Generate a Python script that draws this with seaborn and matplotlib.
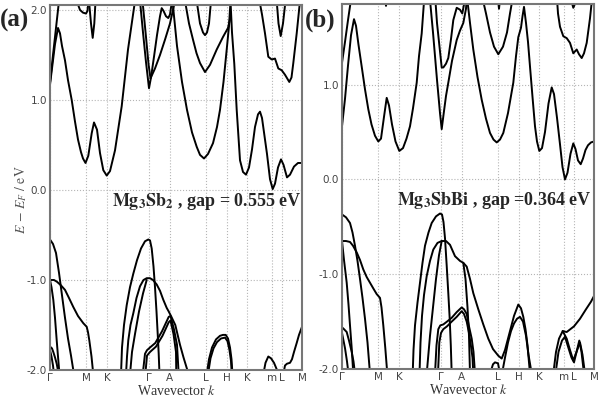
import numpy as np
import pandas as pd
import seaborn as sns
import matplotlib
matplotlib.use('Agg')
import matplotlib.pyplot as plt

# k path positions of the high symmetry points (same for both panels)
k_ticks = [0, 36, 57, 99, 119.5, 156, 177, 197, 222, 232, 252]
k_labels = ['Γ', 'M', 'K', 'Γ', 'A', 'L', 'H', 'K', 'm', 'L', 'M']

# ---- (a) Mg3Sb2 : bands as (k, E) pairs ----
a_c1 = [(0, 1.17), (2, 1.35), (5, 1.62), (8, 1.80), (10, 1.74), (12, 1.60), (15, 1.44), (18, 1.22),
        (21.7, 1.00), (25, 0.76), (28, 0.56), (31, 0.42), (33, 0.35), (35.5, 0.30), (38.3, 0.38),
        (41.7, 0.63), (44, 0.75), (47, 0.67), (50, 0.41), (53.3, 0.22), (56.7, 0.16), (60, 0.21),
        (65, 0.44), (71.7, 0.93), (78, 1.56), (85, 2.10)]
a_c2 = [(0, 1.19), (3, 1.50), (6, 1.80), (9, 2.10)]
a_c3 = [(26.7, 2.10), (30, 2.00), (33, 1.97), (36, 1.96), (37.5, 1.99), (38.5, 2.10)]
a_c4 = [(39, 2.10), (41, 1.85), (42.7, 1.69), (44.3, 1.85), (45.5, 2.10)]
a_c5 = [(90, 2.10), (93, 1.75), (96, 1.42), (99, 1.13), (101, 1.25), (104, 1.48), (107, 1.72),
        (110, 1.93), (111.7, 2.02), (113.5, 1.99), (116, 1.93), (118.3, 1.91), (120, 1.95), (122, 2.10)]
a_c6 = [(92.5, 2.10), (96, 1.70), (98.5, 1.40), (100.5, 1.24), (105, 1.35), (110, 1.50), (115, 1.67),
        (120, 1.85), (125, 2.10)]
a_c7 = [(122.5, 2.10), (127, 1.60), (132, 1.20), (137, 0.89), (142, 0.64), (146.7, 0.48), (150, 0.39),
        (154, 0.35), (158, 0.40), (163, 0.52), (167, 0.70), (170, 0.89), (173.5, 1.20), (176.7, 1.56),
        (179, 1.82), (180.5, 2.10), (182, 1.75), (184.3, 1.40), (186.7, 0.89), (190, 0.33), (193, 0.20),
        (196, 0.17), (199, 0.25), (202, 0.45), (205, 0.70), (208, 0.84), (210, 0.87), (212, 0.80),
        (214.5, 0.60), (217, 0.40), (220, 0.12), (222.7, 0.01), (225, 0.07), (228, 0.25), (231, 0.34),
        (233.5, 0.28), (237, 0.14), (240, 0.17), (244, 0.26), (248, 0.30), (252, 0.30)]
a_c8 = [(135, 2.10), (139, 1.85), (143, 1.67), (146.5, 1.52), (150, 1.41), (155, 1.31), (160, 1.39),
        (166.7, 1.56), (173, 1.70), (178, 1.80), (180, 1.90)]
a_c9 = [(146.7, 2.10), (150, 1.85), (153, 1.75), (155, 1.72), (157, 1.75), (159, 1.85), (161, 2.10)]
a_c10 = [(209.5, 2.10), (212, 1.95), (215, 1.74), (218.3, 1.48), (221.7, 1.45), (225, 1.46), (228.3, 1.35),
         (231.7, 1.33), (235, 1.28), (239.3, 1.20), (241.5, 1.25), (243.3, 1.41), (246.7, 1.74), (250, 2.10)]
a_c11 = [(226.7, 2.10), (228.5, 1.85), (230.7, 1.71), (233, 1.85), (235.5, 2.10)]

a_v1 = [(0, -0.55), (3, -0.60), (6, -0.70), (9, -0.92), (12, -1.17), (15, -1.42), (18, -1.65),
        (21, -1.84), (24, -2.05)]
a_v2 = [(0, -1.00), (4, -1.00), (7, -1.02), (11, -1.06), (15, -1.11), (19, -1.20), (23.3, -1.30),
        (28, -1.40), (33.3, -1.48), (36.7, -1.52), (38, -1.58), (39.3, -1.67), (41.5, -1.85), (43.3, -2.05)]
a_v3 = [(0, -1.00), (1.5, -1.08), (3.3, -1.22), (5, -1.42), (6.7, -1.67), (8, -1.85), (9.5, -2.05)]
a_v4 = [(0, -1.74), (2, -1.76), (3.3, -1.80), (5, -1.86), (6.7, -1.93), (8.7, -2.05)]
a_v5 = [(0, -1.78), (1.5, -1.85), (3, -1.95), (4, -2.05)]
a_v6 = [(71, -2.05), (72, -1.75), (74, -1.50), (76.7, -1.28), (80, -1.08), (83.3, -0.93), (87, -0.78),
        (91, -0.65), (95, -0.57), (98.3, -0.55), (100, -0.56), (101.7, -0.65), (103.5, -0.85),
        (105, -1.08), (106.5, -1.35), (107.8, -1.62), (108.7, -1.82), (109.5, -2.05)]
a_v7 = [(76, -2.05), (77, -1.85), (78.3, -1.67), (80.5, -1.50), (83.3, -1.37), (86.5, -1.20), (90, -1.07),
        (93.5, -1.00), (96.7, -0.98), (100, -0.98), (103, -1.00), (106.7, -1.05), (110, -1.12),
        (113.3, -1.22), (116.7, -1.31), (118.7, -1.35), (121, -1.40), (125.3, -1.50), (130, -1.72),
        (133.5, -1.86), (138.7, -2.05)]
a_v8 = [(80, -2.05), (82, -1.80), (85, -1.60), (89, -1.35), (93, -1.15), (96.7, -1.00)]
a_v9 = [(92.7, -2.05), (95, -1.82), (97, -1.78), (100, -1.75), (105.3, -1.70), (112, -1.57),
        (118.7, -1.41), (120.5, -1.40), (124, -1.55), (127, -1.72), (128.7, -2.05)]
a_v10 = [(95.3, -2.05), (97, -1.84), (100, -1.80), (106, -1.74), (112.5, -1.62), (118.7, -1.47),
         (120.5, -1.45), (123.5, -1.60), (126, -1.80), (126.3, -2.05)]
a_v11 = [(156.7, -2.05), (159, -1.88), (162, -1.75), (166, -1.66), (170, -1.62), (173, -1.61),
         (175.7, -1.61), (178, -1.65), (180, -1.75), (181.5, -1.88), (182.5, -2.05)]
a_v12 = [(158, -2.05), (160.5, -1.87), (163.5, -1.76), (167, -1.69), (171, -1.65), (175, -1.64),
         (177.5, -1.68), (179.5, -1.78), (181, -1.90), (181.8, -2.05)]
a_v13 = [(213.3, -2.05), (215.5, -1.92), (218.3, -1.85), (221, -1.87), (224, -1.92), (227, -2.00), (228.3, -2.05)]
a_v14 = [(233.3, -2.05), (235, -1.95), (237, -1.93), (240, -1.92), (242, -1.88), (244, -1.80),
         (246.7, -1.70), (249, -1.61), (252, -1.52)]

# ---- (b) Mg3SbBi ----
b_c1 = [(0, 0.56), (3, 0.85), (6, 1.20), (9, 1.52), (12, 1.69), (14, 1.62), (16.5, 1.42), (19.7, 1.19),
        (23, 0.95), (26.3, 0.74), (29.5, 0.58), (33, 0.46), (36.3, 0.40), (39, 0.43), (42, 0.66),
        (44.7, 0.86), (47, 0.78), (50, 0.58), (53.5, 0.40), (57.3, 0.30), (61, 0.33), (64.5, 0.43),
        (68, 0.56), (71, 0.75), (74.7, 1.02), (77, 1.30), (79.7, 1.54), (82.5, 1.95)]
b_c2 = [(0, 1.23), (3, 1.45), (6, 1.68), (9.7, 1.95)]
b_c3 = [(42.5, 1.95), (44, 1.83), (45.5, 1.95)]
b_c4 = [(87.5, 1.95), (91, 1.55), (95, 1.05), (98, 0.70), (99.7, 0.53), (101.5, 0.68), (104, 0.88),
        (106.3, 1.02), (110, 1.25), (114.7, 1.47), (118, 1.57), (121.3, 1.65), (124, 1.80), (125, 1.95)]
b_c5 = [(93, 1.95), (95, 1.65), (98, 1.35), (99.7, 1.18), (101.3, 1.18), (104, 1.22), (106.3, 1.28),
        (109, 1.48), (111.3, 1.68), (114.7, 1.81), (118, 1.79), (120.3, 1.75), (123, 1.90)]
b_c6 = [(124.7, 1.95), (128, 1.65), (131.3, 1.37), (135.5, 1.08), (139.7, 0.84), (144, 0.64), (148, 0.49),
        (151.5, 0.42), (154.7, 0.39), (158, 0.42), (161.3, 0.49), (166, 0.70), (171.3, 1.02), (174, 1.30),
        (176.3, 1.50), (179, 1.60), (180.5, 1.72), (182, 1.82), (184, 1.65), (186, 1.45), (188, 1.19),
        (190.5, 0.87), (193, 0.56), (195, 0.40), (197.3, 0.30), (200, 0.33), (203, 0.50), (206.5, 0.80),
        (209.7, 0.97), (212, 0.90), (215, 0.65), (218, 0.37), (220.5, 0.13), (223, 0.00), (225.5, 0.07),
        (228.5, 0.27), (231.3, 0.38), (233.5, 0.32), (236, 0.20), (238.7, 0.16), (241, 0.22), (243.5, 0.31),
        (246, 0.36), (249, 0.39), (252, 0.40)]
b_c7 = [(139.7, 1.95), (144, 1.75), (148, 1.55), (152, 1.40), (156.3, 1.32), (161, 1.40), (165, 1.55),
        (168, 1.75), (171.3, 1.95)]
b_c8 = [(155.5, 1.95), (157, 1.80), (158.5, 1.95)]
b_c9 = [(214.7, 1.95), (216, 1.75), (218, 1.61), (221.3, 1.51), (224.7, 1.49), (228, 1.44), (231.3, 1.33),
        (234.7, 1.37), (237, 1.32), (239.7, 1.28), (242, 1.33), (244.7, 1.44), (248, 1.70), (250.5, 1.95)]
b_c10 = [(229, 1.95), (230.5, 1.84), (231.3, 1.81), (232.5, 1.84), (234, 1.95)]

b_v1 = [(0, -0.37), (4, -0.40), (8, -0.46), (10.5, -0.56), (13, -0.70), (15.5, -0.86), (18, -1.05),
        (20.5, -1.25), (23, -1.47), (25.5, -1.72), (28, -2.05)]
b_v2 = [(0, -0.65), (4, -0.65), (8, -0.66), (11, -0.70), (14.7, -0.77), (18, -0.85), (21.3, -0.95),
        (24.7, -1.03), (28, -1.09), (31.3, -1.15), (34.7, -1.21), (38, -1.25), (39.5, -1.35), (41.3, -1.54),
        (43.3, -1.78), (45.3, -2.05)]
b_v3 = [(0, -0.65), (2, -0.85), (4.7, -1.09), (6.5, -1.32), (8, -1.54), (9.7, -1.78), (11.3, -2.05)]
b_v4 = [(0, -1.56), (2, -1.58), (4.7, -1.61), (7, -1.70), (9.7, -1.82), (11.5, -1.92), (13, -2.05)]
b_v5 = [(0, -1.62), (3, -1.78), (5, -1.92), (6.5, -2.05)]
b_v6 = [(70.7, -2.05), (71.5, -1.80), (73, -1.54), (75.5, -1.30), (78, -1.09), (80.5, -0.88), (83, -0.70),
        (86.5, -0.56), (89.7, -0.46), (94, -0.39), (98, -0.36), (100, -0.37), (101.5, -0.45), (103, -0.62),
        (104.7, -0.91), (106.3, -1.20), (107.7, -1.47), (108.8, -1.75), (109.7, -2.05)]
b_v7 = [(77.5, -2.05), (78.5, -1.72), (80, -1.44), (82, -1.22), (84.7, -1.02), (88, -0.86), (91.3, -0.74),
        (95.5, -0.67), (99.7, -0.65), (104, -0.65), (108, -0.69), (113, -0.81), (118, -0.86),
        (121.3, -0.88), (124.7, -0.92), (128, -1.05), (131.3, -1.20), (136.3, -1.37), (141.3, -1.53),
        (146.3, -1.68), (151, -1.79), (156.3, -1.86), (159.7, -1.89), (163, -1.80), (168, -1.60),
        (172, -1.44), (176.3, -1.32), (179, -1.36), (181.3, -1.45), (183.5, -1.58), (185.5, -1.75), (188, -2.05)]
b_v8 = [(121.3, -0.88), (123.5, -1.05), (125.5, -1.35), (127, -1.65), (128, -2.05)]
b_v9 = [(93, -2.05), (94.5, -1.75), (96.3, -1.58), (98.3, -1.54), (101.3, -1.53), (105, -1.50),
        (109.7, -1.46), (114.7, -1.40), (119.7, -1.35), (122, -1.37), (124.7, -1.42), (127, -1.55),
        (129.7, -1.68), (131.5, -1.82), (133, -2.05)]
b_v10 = [(96, -2.05), (97.3, -1.72), (99, -1.62), (101.3, -1.58), (105, -1.55), (109.7, -1.50),
         (114.7, -1.45), (119.7, -1.39), (122, -1.42), (124.7, -1.50), (127, -1.62), (129, -1.76),
         (130.5, -1.88), (131.3, -2.05)]
b_v11 = [(160, -2.05), (163, -1.88), (166, -1.72), (169, -1.60), (172, -1.52), (175, -1.47), (178, -1.45),
         (181, -1.50), (184, -1.65), (186.5, -1.85), (189.7, -2.05)]
b_v12 = [(148, -2.05), (151, -1.95), (153, -1.93), (156, -1.94), (158, -2.05)]
b_v13 = [(211.3, -2.05), (214, -1.82), (217, -1.68), (220.7, -1.60), (224.7, -1.68), (228, -1.80),
         (231.3, -1.91), (234.5, -1.82), (238, -1.72), (240.5, -1.85), (243, -2.05)]
b_v14 = [(213.5, -2.05), (216.5, -1.82), (220, -1.70), (223, -1.66), (226.5, -1.78), (229.5, -1.88),
         (232, -1.93), (235, -1.80), (237.3, -1.70), (239.5, -1.82), (242, -2.05)]
b_v15 = [(220.7, -1.60), (224.7, -1.61), (232, -1.55), (238, -1.47), (244, -1.37), (249, -1.29), (252, -1.23)]
b_v16 = [(84.7, -2.05), (88, -1.65), (91, -1.35), (94, -1.05), (97, -0.80), (99.7, -0.65)]

bands_a = {'c1': a_c1, 'c2': a_c2, 'c3': a_c3, 'c4': a_c4, 'c5': a_c5, 'c6': a_c6, 'c7': a_c7,
           'c8': a_c8, 'c9': a_c9, 'c10': a_c10, 'c11': a_c11,
           'v1': a_v1, 'v2': a_v2, 'v3': a_v3, 'v4': a_v4, 'v5': a_v5, 'v6': a_v6, 'v7': a_v7,
           'v8': a_v8, 'v9': a_v9, 'v10': a_v10, 'v11': a_v11, 'v12': a_v12, 'v13': a_v13, 'v14': a_v14}
bands_b = {'c1': b_c1, 'c2': b_c2, 'c3': b_c3, 'c4': b_c4, 'c5': b_c5, 'c6': b_c6, 'c7': b_c7,
           'c8': b_c8, 'c9': b_c9, 'c10': b_c10,
           'v1': b_v1, 'v2': b_v2, 'v3': b_v3, 'v4': b_v4, 'v5': b_v5, 'v6': b_v6, 'v7': b_v7,
           'v8': b_v8, 'v9': b_v9, 'v10': b_v10, 'v11': b_v11, 'v12': b_v12, 'v13': b_v13,
           'v14': b_v14, 'v15': b_v15, 'v16': b_v16}


def to_frame(bands):
    rows = [(name, k, e) for name, pts in bands.items() for k, e in pts]
    return pd.DataFrame(rows, columns=['band', 'k', 'E'])


sns.set_style('white')
plt.rcParams['mathtext.fontset'] = 'stix'
plt.rcParams['axes.unicode_minus'] = False

fig = plt.figure(figsize=(6, 4.01), dpi=100)
ax_a = fig.add_axes([50 / 600, 1 - 370 / 401, 252 / 600, 365 / 401])
ax_b = fig.add_axes([342 / 600, 1 - 369 / 401, 252 / 600, 365 / 401])

panels = [(ax_a, bands_a, (-2.0, 2.055), [-2, -1, 0, 1, 2]),
          (ax_b, bands_b, (-2.0, 1.85), [-2, -1, 0, 1])]

for ax, bands, ylim, yt in panels:
    sns.lineplot(data=to_frame(bands), x='k', y='E', units='band', estimator=None, sort=False,
                 color='black', linewidth=1.4, ax=ax, legend=False)
    ax.set_xlim(0, 252)
    ax.set_ylim(*ylim)
    ax.set_xticks(k_ticks)
    ax.set_xticklabels(k_labels)
    ax.set_yticks(yt)
    ax.set_yticklabels(['%.1f' % v for v in yt])
    ax.grid(True, linestyle=':', color='#b5b5b5', linewidth=0.8)
    ax.tick_params(length=0, labelsize=7.5, labelcolor='#444444', pad=2)
    for s in ax.spines.values():
        s.set_color('#777777')
        s.set_linewidth(1.5)
    ax.set_ylabel('')
    ax.set_xlabel('Wavevector $k$', fontsize=10, family='Liberation Serif', color='#333333', labelpad=1)

fig.text(0.035, 1 - 200 / 401, r'$E\,-\,E_F\ /\ \mathrm{eV}$', rotation=90, fontsize=10,
         color='#555555', ha='center', va='center')

ax_a.text(62, -0.178, r'$\mathbf{Mg_3Sb_2}$ , gap = 0.555 eV', fontsize=13, fontweight='bold',
          family='Liberation Serif', ha='left', va='baseline', clip_on=False)
ax_b.text(55, -0.27, r'$\mathbf{Mg_3SbBi}$ , gap =0.364 eV', fontsize=13, fontweight='bold',
          family='Liberation Serif', ha='left', va='baseline', clip_on=False)

fig.text(0.0, 1 - 20 / 401, '(a)', fontsize=18, fontweight='bold', family='Liberation Serif', va='center')
fig.text(305 / 600, 1 - 20 / 401, '(b)', fontsize=18, fontweight='bold', family='Liberation Serif', va='center')

fig.savefig('out.png', dpi=100)
